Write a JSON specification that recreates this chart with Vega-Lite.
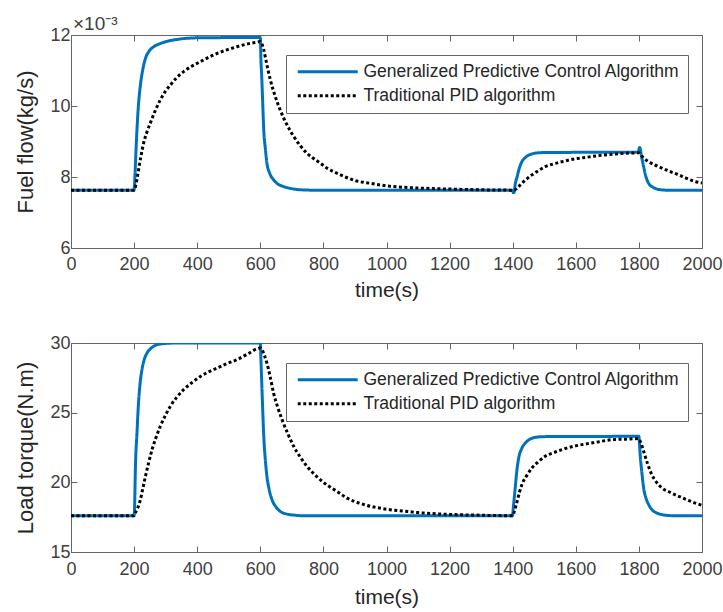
{
  "$schema": "https://vega.github.io/schema/vega-lite/v6.json",
  "padding": {"left": 14, "top": 14, "right": 5, "bottom": 2},
  "background": "white",
  "datasets": {
    "fuel": [
      {"s":"GPC","t":0,"v":7.63},{"s":"GPC","t":200,"v":7.63},{"s":"GPC","t":203,"v":8.1},{"s":"GPC","t":206,"v":8.75},{"s":"GPC","t":209,"v":9.32},{"s":"GPC","t":214,"v":10.05},{"s":"GPC","t":220,"v":10.59},{"s":"GPC","t":228,"v":11.05},{"s":"GPC","t":236,"v":11.34},{"s":"GPC","t":248,"v":11.55},{"s":"GPC","t":262,"v":11.67},{"s":"GPC","t":280,"v":11.75},{"s":"GPC","t":304,"v":11.82},{"s":"GPC","t":340,"v":11.88},{"s":"GPC","t":400,"v":11.92},{"s":"GPC","t":598,"v":11.93},{"s":"GPC","t":600,"v":11.93},{"s":"GPC","t":602,"v":11.3},{"s":"GPC","t":605,"v":10.73},{"s":"GPC","t":608,"v":10.0},{"s":"GPC","t":611,"v":9.32},{"s":"GPC","t":616,"v":8.8},{"s":"GPC","t":621,"v":8.39},{"s":"GPC","t":630,"v":8.1},{"s":"GPC","t":642,"v":7.92},{"s":"GPC","t":656,"v":7.8},{"s":"GPC","t":674,"v":7.73},{"s":"GPC","t":700,"v":7.67},{"s":"GPC","t":727,"v":7.64},{"s":"GPC","t":760,"v":7.63},{"s":"GPC","t":1399,"v":7.63},{"s":"GPC","t":1402,"v":7.56},{"s":"GPC","t":1404,"v":7.56},{"s":"GPC","t":1408,"v":7.8},{"s":"GPC","t":1414,"v":8.01},{"s":"GPC","t":1421,"v":8.25},{"s":"GPC","t":1429,"v":8.43},{"s":"GPC","t":1440,"v":8.55},{"s":"GPC","t":1461,"v":8.65},{"s":"GPC","t":1480,"v":8.68},{"s":"GPC","t":1503,"v":8.69},{"s":"GPC","t":1798,"v":8.7},{"s":"GPC","t":1802,"v":8.83},{"s":"GPC","t":1804,"v":8.8},{"s":"GPC","t":1808,"v":8.6},{"s":"GPC","t":1815,"v":8.29},{"s":"GPC","t":1822,"v":8.02},{"s":"GPC","t":1831,"v":7.82},{"s":"GPC","t":1845,"v":7.71},{"s":"GPC","t":1862,"v":7.65},{"s":"GPC","t":1885,"v":7.63},{"s":"GPC","t":2000,"v":7.63},
      {"s":"PID","t":0,"v":7.63},{"s":"PID","t":200,"v":7.63},{"s":"PID","t":205,"v":7.75},{"s":"PID","t":214,"v":8.2},{"s":"PID","t":222,"v":8.6},{"s":"PID","t":230,"v":8.95},{"s":"PID","t":240,"v":9.25},{"s":"PID","t":251,"v":9.51},{"s":"PID","t":266,"v":9.85},{"s":"PID","t":283,"v":10.17},{"s":"PID","t":298,"v":10.4},{"s":"PID","t":315,"v":10.59},{"s":"PID","t":335,"v":10.8},{"s":"PID","t":357,"v":10.97},{"s":"PID","t":383,"v":11.12},{"s":"PID","t":410,"v":11.25},{"s":"PID","t":436,"v":11.37},{"s":"PID","t":463,"v":11.48},{"s":"PID","t":494,"v":11.58},{"s":"PID","t":526,"v":11.67},{"s":"PID","t":560,"v":11.75},{"s":"PID","t":595,"v":11.81},{"s":"PID","t":600,"v":11.82},{"s":"PID","t":605,"v":11.75},{"s":"PID","t":611,"v":11.58},{"s":"PID","t":620,"v":11.2},{"s":"PID","t":632,"v":10.73},{"s":"PID","t":647,"v":10.28},{"s":"PID","t":663,"v":9.89},{"s":"PID","t":684,"v":9.48},{"s":"PID","t":706,"v":9.14},{"s":"PID","t":727,"v":8.88},{"s":"PID","t":748,"v":8.67},{"s":"PID","t":769,"v":8.52},{"s":"PID","t":790,"v":8.39},{"s":"PID","t":811,"v":8.25},{"s":"PID","t":850,"v":8.08},{"s":"PID","t":900,"v":7.9},{"s":"PID","t":950,"v":7.82},{"s":"PID","t":1000,"v":7.75},{"s":"PID","t":1100,"v":7.69},{"s":"PID","t":1200,"v":7.66},{"s":"PID","t":1300,"v":7.64},{"s":"PID","t":1400,"v":7.63},{"s":"PID","t":1405,"v":7.63},{"s":"PID","t":1415,"v":7.7},{"s":"PID","t":1429,"v":7.82},{"s":"PID","t":1445,"v":7.95},{"s":"PID","t":1461,"v":8.06},{"s":"PID","t":1480,"v":8.17},{"s":"PID","t":1503,"v":8.29},{"s":"PID","t":1530,"v":8.37},{"s":"PID","t":1556,"v":8.43},{"s":"PID","t":1590,"v":8.5},{"s":"PID","t":1630,"v":8.55},{"s":"PID","t":1670,"v":8.6},{"s":"PID","t":1715,"v":8.64},{"s":"PID","t":1760,"v":8.67},{"s":"PID","t":1799,"v":8.68},{"s":"PID","t":1805,"v":8.63},{"s":"PID","t":1815,"v":8.53},{"s":"PID","t":1831,"v":8.43},{"s":"PID","t":1850,"v":8.34},{"s":"PID","t":1873,"v":8.25},{"s":"PID","t":1900,"v":8.15},{"s":"PID","t":1926,"v":8.06},{"s":"PID","t":1952,"v":7.96},{"s":"PID","t":1979,"v":7.87},{"s":"PID","t":2000,"v":7.83}
    ],
    "torque": [
      {"s":"GPC","t":0,"v":17.6},{"s":"GPC","t":200,"v":17.6},{"s":"GPC","t":202,"v":18.6},{"s":"GPC","t":204,"v":20.9},{"s":"GPC","t":209,"v":23.5},{"s":"GPC","t":214,"v":25.7},{"s":"GPC","t":219,"v":27.1},{"s":"GPC","t":225,"v":28.1},{"s":"GPC","t":232,"v":28.8},{"s":"GPC","t":241,"v":29.28},{"s":"GPC","t":255,"v":29.65},{"s":"GPC","t":273,"v":29.88},{"s":"GPC","t":300,"v":29.97},{"s":"GPC","t":340,"v":30.0},{"s":"GPC","t":598,"v":30.0},{"s":"GPC","t":600,"v":30.0},{"s":"GPC","t":602,"v":28.8},{"s":"GPC","t":605,"v":26.9},{"s":"GPC","t":608,"v":25.0},{"s":"GPC","t":611,"v":23.3},{"s":"GPC","t":616,"v":21.6},{"s":"GPC","t":621,"v":20.43},{"s":"GPC","t":628,"v":19.5},{"s":"GPC","t":637,"v":18.76},{"s":"GPC","t":649,"v":18.25},{"s":"GPC","t":663,"v":17.92},{"s":"GPC","t":684,"v":17.72},{"s":"GPC","t":706,"v":17.65},{"s":"GPC","t":740,"v":17.6},{"s":"GPC","t":1399,"v":17.6},{"s":"GPC","t":1402,"v":18.2},{"s":"GPC","t":1405,"v":18.9},{"s":"GPC","t":1408,"v":19.6},{"s":"GPC","t":1413,"v":20.8},{"s":"GPC","t":1419,"v":21.75},{"s":"GPC","t":1428,"v":22.4},{"s":"GPC","t":1440,"v":22.82},{"s":"GPC","t":1455,"v":23.1},{"s":"GPC","t":1472,"v":23.23},{"s":"GPC","t":1500,"v":23.28},{"s":"GPC","t":1798,"v":23.3},{"s":"GPC","t":1800,"v":23.3},{"s":"GPC","t":1802,"v":22.7},{"s":"GPC","t":1804,"v":21.99},{"s":"GPC","t":1809,"v":20.8},{"s":"GPC","t":1815,"v":19.6},{"s":"GPC","t":1822,"v":18.9},{"s":"GPC","t":1831,"v":18.4},{"s":"GPC","t":1843,"v":18.0},{"s":"GPC","t":1857,"v":17.8},{"s":"GPC","t":1875,"v":17.67},{"s":"GPC","t":1894,"v":17.62},{"s":"GPC","t":1920,"v":17.6},{"s":"GPC","t":2000,"v":17.6},
      {"s":"PID","t":0,"v":17.6},{"s":"PID","t":200,"v":17.6},{"s":"PID","t":204,"v":17.8},{"s":"PID","t":212,"v":18.2},{"s":"PID","t":220,"v":18.76},{"s":"PID","t":228,"v":19.6},{"s":"PID","t":236,"v":20.43},{"s":"PID","t":246,"v":21.4},{"s":"PID","t":257,"v":22.35},{"s":"PID","t":270,"v":23.25},{"s":"PID","t":283,"v":24.02},{"s":"PID","t":298,"v":24.75},{"s":"PID","t":315,"v":25.46},{"s":"PID","t":335,"v":26.1},{"s":"PID","t":357,"v":26.65},{"s":"PID","t":383,"v":27.15},{"s":"PID","t":410,"v":27.6},{"s":"PID","t":436,"v":27.93},{"s":"PID","t":463,"v":28.2},{"s":"PID","t":494,"v":28.52},{"s":"PID","t":526,"v":28.8},{"s":"PID","t":560,"v":29.22},{"s":"PID","t":595,"v":29.62},{"s":"PID","t":600,"v":29.64},{"s":"PID","t":606,"v":29.5},{"s":"PID","t":613,"v":29.1},{"s":"PID","t":621,"v":28.56},{"s":"PID","t":631,"v":27.6},{"s":"PID","t":642,"v":26.41},{"s":"PID","t":655,"v":25.4},{"s":"PID","t":669,"v":24.5},{"s":"PID","t":687,"v":23.5},{"s":"PID","t":706,"v":22.58},{"s":"PID","t":727,"v":21.8},{"s":"PID","t":748,"v":21.15},{"s":"PID","t":769,"v":20.63},{"s":"PID","t":790,"v":20.19},{"s":"PID","t":815,"v":19.75},{"s":"PID","t":843,"v":19.35},{"s":"PID","t":875,"v":18.87},{"s":"PID","t":922,"v":18.45},{"s":"PID","t":1000,"v":18.07},{"s":"PID","t":1050,"v":17.95},{"s":"PID","t":1100,"v":17.83},{"s":"PID","t":1200,"v":17.7},{"s":"PID","t":1300,"v":17.64},{"s":"PID","t":1400,"v":17.6},{"s":"PID","t":1405,"v":17.9},{"s":"PID","t":1414,"v":18.64},{"s":"PID","t":1421,"v":19.25},{"s":"PID","t":1429,"v":19.83},{"s":"PID","t":1445,"v":20.5},{"s":"PID","t":1461,"v":21.03},{"s":"PID","t":1480,"v":21.45},{"s":"PID","t":1503,"v":21.87},{"s":"PID","t":1530,"v":22.13},{"s":"PID","t":1556,"v":22.35},{"s":"PID","t":1590,"v":22.57},{"s":"PID","t":1630,"v":22.75},{"s":"PID","t":1670,"v":22.9},{"s":"PID","t":1715,"v":23.06},{"s":"PID","t":1760,"v":23.1},{"s":"PID","t":1799,"v":23.14},{"s":"PID","t":1805,"v":22.9},{"s":"PID","t":1815,"v":22.23},{"s":"PID","t":1828,"v":21.3},{"s":"PID","t":1841,"v":20.55},{"s":"PID","t":1856,"v":20.0},{"s":"PID","t":1873,"v":19.6},{"s":"PID","t":1900,"v":19.27},{"s":"PID","t":1926,"v":19.0},{"s":"PID","t":1952,"v":18.75},{"s":"PID","t":1979,"v":18.51},{"s":"PID","t":2000,"v":18.35}
    ]
  },
  "vconcat": [
    {
      "width": 631,
      "height": 213,
      "data": {"name": "fuel"},
      "title": {"text": "×10⁻³", "anchor": "start", "frame": "group", "fontSize": 19, "fontWeight": "normal", "color": "#404040", "offset": -8, "dx": 2},
      "layer": [
        {
          "mark": {"type": "line", "strokeWidth": 3, "interpolate": "monotone", "clip": true},
          "encoding": {
            "x": {"field": "t", "type": "quantitative", "scale": {"domain": [0, 2000], "nice": false}, "axis": {"title": "time(s)", "format": "d", "labelPadding": 13, "titlePadding": 6, "values": [0,200,400,600,800,1000,1200,1400,1600,1800,2000]}},
            "y": {"field": "v", "type": "quantitative", "scale": {"domain": [6, 12], "nice": false, "zero": false}, "axis": {"title": "Fuel flow(kg/s)", "labelPadding": 7, "titlePadding": 12, "titleFontSize": 22, "values": [6,8,10,12]}},
            "color": {"field": "s", "type": "nominal", "scale": {"domain": ["GPC","PID"], "range": ["#0072BD","#000000"]}, "legend": {"labelExpr": "datum.value == 'GPC' ? 'Generalized Predictive Control Algorithm' : 'Traditional PID algorithm'"}},
            "strokeDash": {"field": "s", "type": "nominal", "scale": {"domain": ["GPC","PID"], "range": [[1,0],[3,2.5]]}, "legend": {"labelExpr": "datum.value == 'GPC' ? 'Generalized Predictive Control Algorithm' : 'Traditional PID algorithm'"}}
          }
        },
        {
          "mark": {"type": "line", "opacity": 0},
          "encoding": {
            "x": {"field": "t", "type": "quantitative", "axis": {"orient": "top", "title": null, "labels": false, "domain": false, "values": [0,200,400,600,800,1000,1200,1400,1600,1800,2000]}},
            "y": {"field": "v", "type": "quantitative", "axis": {"orient": "right", "title": null, "labels": false, "domain": false, "values": [6,8,10,12]}}
          }
        }
      ],
      "resolve": {"axis": {"x": "independent", "y": "independent"}}
    },
    {
      "width": 631,
      "height": 209,
      "data": {"name": "torque"},
      "layer": [
        {
          "mark": {"type": "line", "strokeWidth": 3, "interpolate": "monotone", "clip": true},
          "encoding": {
            "x": {"field": "t", "type": "quantitative", "scale": {"domain": [0, 2000], "nice": false}, "axis": {"title": "time(s)", "format": "d", "labelPadding": 14, "titlePadding": 8, "values": [0,200,400,600,800,1000,1200,1400,1600,1800,2000]}},
            "y": {"field": "v", "type": "quantitative", "scale": {"domain": [15, 30], "nice": false, "zero": false}, "axis": {"title": "Load torque(N.m)", "labelPadding": 7, "titlePadding": 12, "titleFontSize": 22, "values": [15,20,25,30]}},
            "color": {"field": "s", "type": "nominal", "scale": {"domain": ["GPC","PID"], "range": ["#0072BD","#000000"]}, "legend": {"labelExpr": "datum.value == 'GPC' ? 'Generalized Predictive Control Algorithm' : 'Traditional PID algorithm'"}},
            "strokeDash": {"field": "s", "type": "nominal", "scale": {"domain": ["GPC","PID"], "range": [[1,0],[3,2.5]]}, "legend": {"labelExpr": "datum.value == 'GPC' ? 'Generalized Predictive Control Algorithm' : 'Traditional PID algorithm'"}}
          }
        },
        {
          "mark": {"type": "line", "opacity": 0},
          "encoding": {
            "x": {"field": "t", "type": "quantitative", "axis": {"orient": "top", "title": null, "labels": false, "domain": false, "values": [0,200,400,600,800,1000,1200,1400,1600,1800,2000]}},
            "y": {"field": "v", "type": "quantitative", "axis": {"orient": "right", "title": null, "labels": false, "domain": false, "values": [15,20,25,30]}}
          }
        }
      ],
      "resolve": {"axis": {"x": "independent", "y": "independent"}}
    }
  ],
  "spacing": 32,
  "resolve": {"scale": {"color": "independent", "strokeDash": "independent"}, "legend": {"color": "independent", "strokeDash": "independent"}},
  "config": {
    "font": "Liberation Sans",
    "view": {"stroke": "#666666", "strokeWidth": 1},
    "axis": {"grid": false, "domainColor": "#666666", "tickColor": "#666666", "tickSize": -6, "labelPadding": 10, "labelFontSize": 18, "labelColor": "#404040", "labelFont": "Liberation Sans", "titleFont": "Liberation Sans", "titleFontSize": 21, "titleFontWeight": "normal", "titleColor": "#262626", "titlePadding": 6, "labelFlush": false},
    "legend": {"orient": "none", "legendX": 215, "legendY": 20, "title": null, "symbolType": "M-1,0H11", "symbolSize": 100, "symbolStrokeWidth": 3, "labelFontSize": 17.5, "labelColor": "#262626", "labelFont": "Liberation Sans", "labelOffset": 52, "padding": 8, "rowPadding": 5, "strokeColor": "#666666", "fillColor": "#ffffff", "cornerRadius": 0, "labelLimit": 400}
  }
}
